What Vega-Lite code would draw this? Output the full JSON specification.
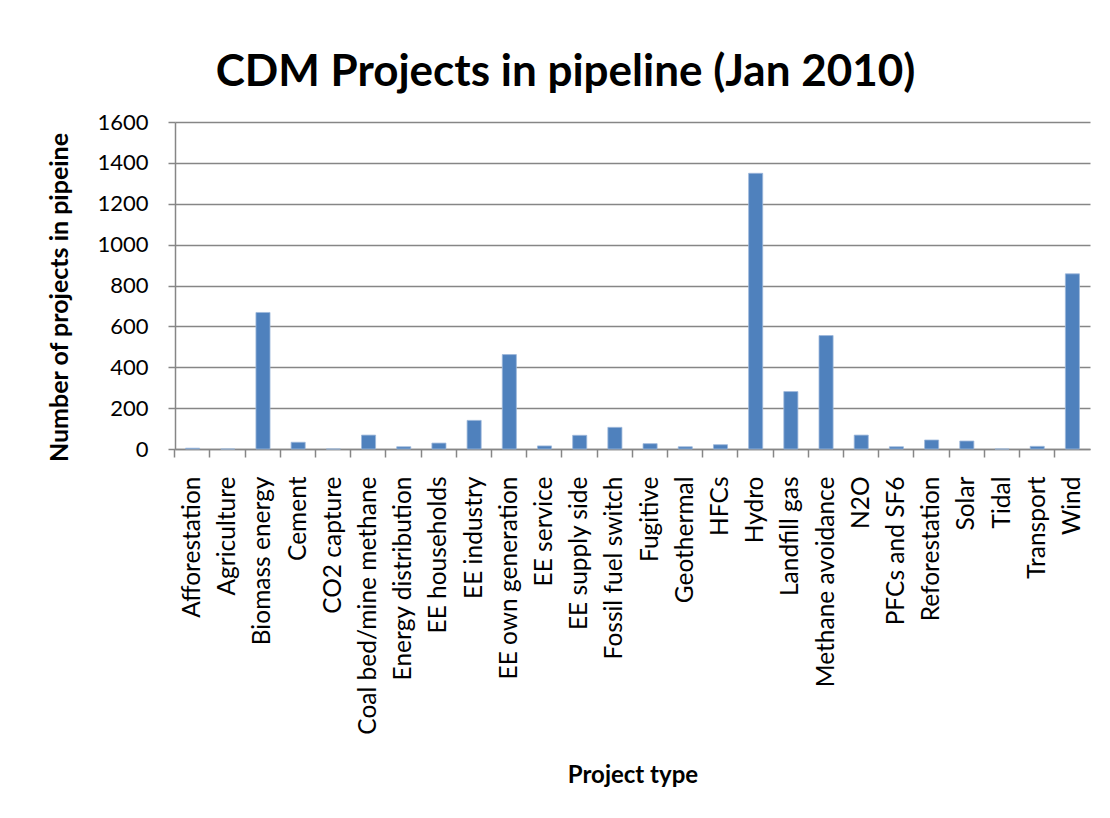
{
  "$schema": "https://vega.github.io/schema/vega-lite/v6.json",
  "autosize": {"type": "none"},
  "padding": {"left": 175, "top": 122, "right": 20, "bottom": 369},
  "width": 915,
  "height": 327,
  "background": "white",
  "title": {
    "text": "CDM Projects in pipeline (Jan 2010)",
    "font": "Lato",
    "fontSize": 44,
    "fontWeight": "bold",
    "color": "black",
    "anchor": "middle",
    "dx": -67,
    "baseline": "alphabetic",
    "offset": -19
  },
  "data": {
    "values": [
      {"type": "Afforestation", "count": 4},
      {"type": "Agriculture", "count": 0},
      {"type": "Biomass energy", "count": 668},
      {"type": "Cement", "count": 33},
      {"type": "CO2 capture", "count": 0},
      {"type": "Coal bed/mine methane", "count": 68},
      {"type": "Energy distribution", "count": 11},
      {"type": "EE households", "count": 29},
      {"type": "EE industry", "count": 140},
      {"type": "EE own generation", "count": 462},
      {"type": "EE service", "count": 15},
      {"type": "EE supply side", "count": 67},
      {"type": "Fossil fuel switch", "count": 106},
      {"type": "Fugitive", "count": 26},
      {"type": "Geothermal", "count": 11},
      {"type": "HFCs", "count": 21},
      {"type": "Hydro", "count": 1349},
      {"type": "Landfill gas", "count": 281},
      {"type": "Methane avoidance", "count": 555},
      {"type": "N2O", "count": 68},
      {"type": "PFCs and SF6", "count": 11},
      {"type": "Reforestation", "count": 44},
      {"type": "Solar", "count": 39},
      {"type": "Tidal", "count": 0},
      {"type": "Transport", "count": 13},
      {"type": "Wind", "count": 857}
    ]
  },
  "mark": {"type": "bar", "color": "#4F81BD", "stroke": "#9DB8DA", "strokeWidth": 0.8},
  "encoding": {
    "x": {
      "field": "type",
      "type": "nominal",
      "sort": null,
      "scale": {"paddingInner": 0.6, "paddingOuter": 0.3},
      "axis": {
        "title": "Project type",
        "titleFont": "Lato",
        "titleFontSize": 24,
        "titleFontWeight": "bold",
        "titleColor": "black",
        "titleY": 333,
        "titleBaseline": "alphabetic",
        "labelAngle": -90,
        "labelFont": "Lato",
        "labelFontSize": 24.5,
        "labelColor": "black",
        "labelPadding": 19,
        "labelOffset": 18.3,
        "tickOffset": -18.3,
        "tickSize": 8,
        "tickColor": "#868686",
        "domainColor": "#868686",
        "tickWidth": 1.5,
        "domainWidth": 1.5,
        "labelOverlap": false,
        "labelLimit": 0,
        "grid": false
      }
    },
    "y": {
      "field": "count",
      "type": "quantitative",
      "scale": {"domain": [0, 1600], "nice": false},
      "axis": {
        "title": "Number of projects in pipeine",
        "titleFont": "Lato",
        "titleFontSize": 25,
        "titleFontWeight": "bold",
        "titleColor": "black",
        "titlePadding": 24,
        "titleY": 175,
        "format": "d",
        "values": [0, 200, 400, 600, 800, 1000, 1200, 1400, 1600],
        "labelFont": "Lato",
        "labelFontSize": 22,
        "labelColor": "black",
        "labelPadding": 20,
        "tickSize": 7,
        "tickColor": "#868686",
        "domainColor": "#868686",
        "tickWidth": 1.5,
        "domainWidth": 1.5,
        "grid": true,
        "gridColor": "#868686",
        "gridWidth": 1.5
      }
    }
  },
  "config": {"view": {"stroke": null}}
}
